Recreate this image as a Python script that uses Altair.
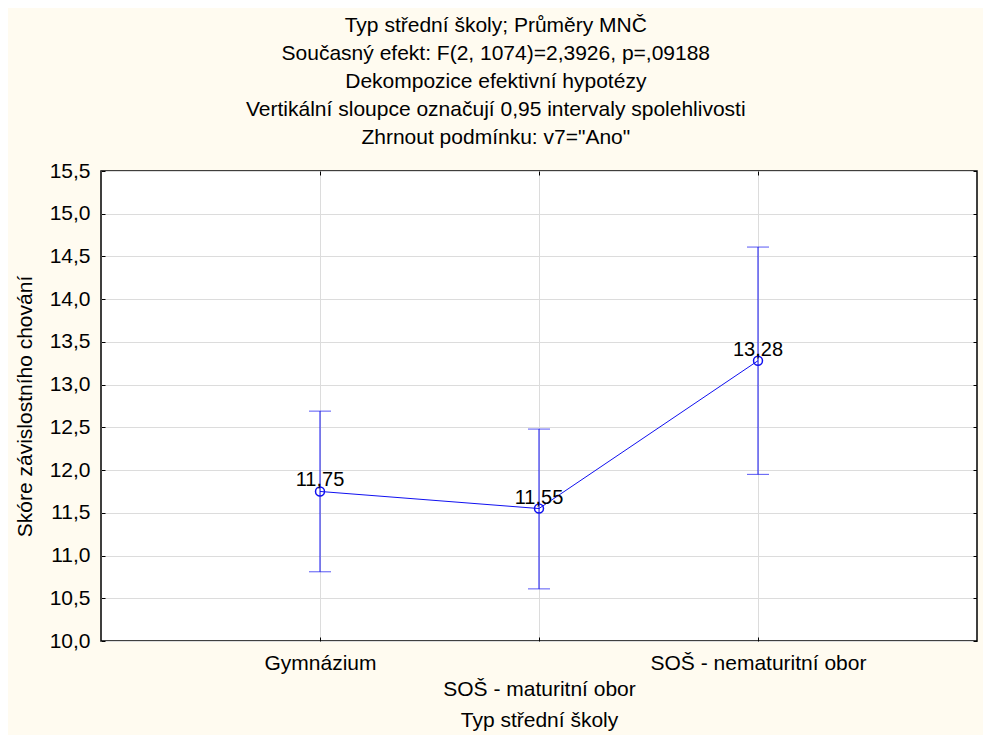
import altair as alt
import pandas as pd

categories = ["Gymnázium", "SOŠ - maturitní obor", "SOŠ - nematuritní obor"]
means = [11.75, 11.55, 13.28]
lower = [10.81, 10.61, 11.95]
upper = [12.69, 12.48, 14.61]
y_ticks = [10.0, 10.5, 11.0, 11.5, 12.0, 12.5, 13.0, 13.5, 14.0, 14.5, 15.0, 15.5]
title_lines = [
    "Typ střední školy; Průměry MNČ",
    "Současný efekt: F(2, 1074)=2,3926, p=,09188",
    "Dekompozice efektivní hypotézy",
    "Vertikální sloupce označují 0,95 intervaly spolehlivosti",
    'Zhrnout podmínku: v7="Ano"',
]

df = pd.DataFrame({"cat": categories, "mean": means, "lo": lower, "hi": upper})

FONT = "Liberation Sans"
FS = 21
BLUE = "#1010F0"

xscale = alt.Scale(type="point", padding=1, domain=categories)
yscale = alt.Scale(domain=[10, 15.5], nice=False, zero=False)

xax = alt.Axis(
    orient="bottom",
    labelAngle=0,
    labelFontSize=FS,
    labelFont=FONT,
    labelColor="black",
    labelLimit=0,
    labelExpr="datum.value == 'SOŠ - maturitní obor' ? ['', datum.value] : datum.value",
    labelLineHeight=26,
    labelPadding=11,
    labelBaseline="top",
    tickSize=4,
    offset=-4,
    tickColor="black",
    domain=False,
    grid=True,
    gridColor="#dcdcdc",
    title="Typ střední školy",
    titleFontSize=FS,
    titleFont=FONT,
    titleFontWeight="normal",
    titleColor="black",
    titlePadding=10,
)
yax = alt.Axis(
    orient="left",
    values=y_ticks,
    labelExpr="replace(format(datum.value, '.1f'), '.', ',')",
    labelFontSize=FS,
    labelFont=FONT,
    labelColor="black",
    labelPadding=11,
    tickSize=4,
    offset=-4,
    tickColor="black",
    domain=False,
    grid=True,
    gridColor="#dcdcdc",
    title="Skóre závislostního chování",
    titleFontSize=FS,
    titleFont=FONT,
    titleFontWeight="normal",
    titleColor="black",
    titlePadding=14,
)

X = alt.X("cat:N", scale=xscale, axis=xax, sort=categories)

base = alt.Chart(df)

rules = base.mark_rule(color=BLUE, strokeWidth=1).encode(
    x=X,
    y=alt.Y("lo:Q", scale=yscale, axis=yax),
    y2="hi:Q",
)
cap_lo = base.mark_tick(color=BLUE, size=22, thickness=1, orient="horizontal").encode(
    x=X, y=alt.Y("lo:Q", scale=yscale, axis=yax)
)
cap_hi = base.mark_tick(color=BLUE, size=22, thickness=1, orient="horizontal").encode(
    x=X, y=alt.Y("hi:Q", scale=yscale, axis=yax)
)
line = base.mark_line(color=BLUE, strokeWidth=1).encode(
    x=X, y=alt.Y("mean:Q", scale=yscale, axis=yax)
)
pts = base.mark_point(color=BLUE, size=80, strokeWidth=1.5, filled=False, opacity=1).encode(
    x=X, y=alt.Y("mean:Q", scale=yscale, axis=yax)
)
labels = base.transform_calculate(
    lbl="replace(format(datum.mean, '.2f'), '.', ',')"
).mark_text(
    font=FONT, fontSize=20, color="black", baseline="alphabetic", align="center", dy=-5
).encode(
    x=X, y=alt.Y("mean:Q", scale=yscale, axis=yax), text="lbl:N"
)

main = alt.layer(rules, cap_lo, cap_hi, line, pts, labels)

frame_axes = base.mark_point(opacity=0).encode(
    x=alt.X(
        "cat:N", scale=xscale, sort=categories,
        axis=alt.Axis(orient="top", labels=False, title=None, domain=False, grid=False,
                      tickSize=4, offset=-4, tickColor="black"),
    ),
    y=alt.Y(
        "mean:Q", scale=yscale,
        axis=alt.Axis(orient="right", values=y_ticks, labels=False, title=None, domain=False,
                      grid=False, tickSize=4, offset=-4, tickColor="black"),
    ),
)

chart = (
    alt.layer(main, frame_axes)
    .resolve_axis(x="independent", y="independent")
    .properties(
        width=876,
        height=470,
        background="#FFFBF0",
        padding={"left": 6, "top": 7, "right": 5, "bottom": 5},
        title=alt.TitleParams(
            text=title_lines,
            fontSize=FS,
            font=FONT,
            fontWeight="normal",
            color="black",
            lineHeight=28,
            anchor="middle",
            frame="bounds",
            offset=12,
        ),
    )
    .configure_view(fill="white", stroke="black", strokeWidth=1.5)
)

chart.save("out.html", embed_options={"renderer": "svg", "actions": False})
